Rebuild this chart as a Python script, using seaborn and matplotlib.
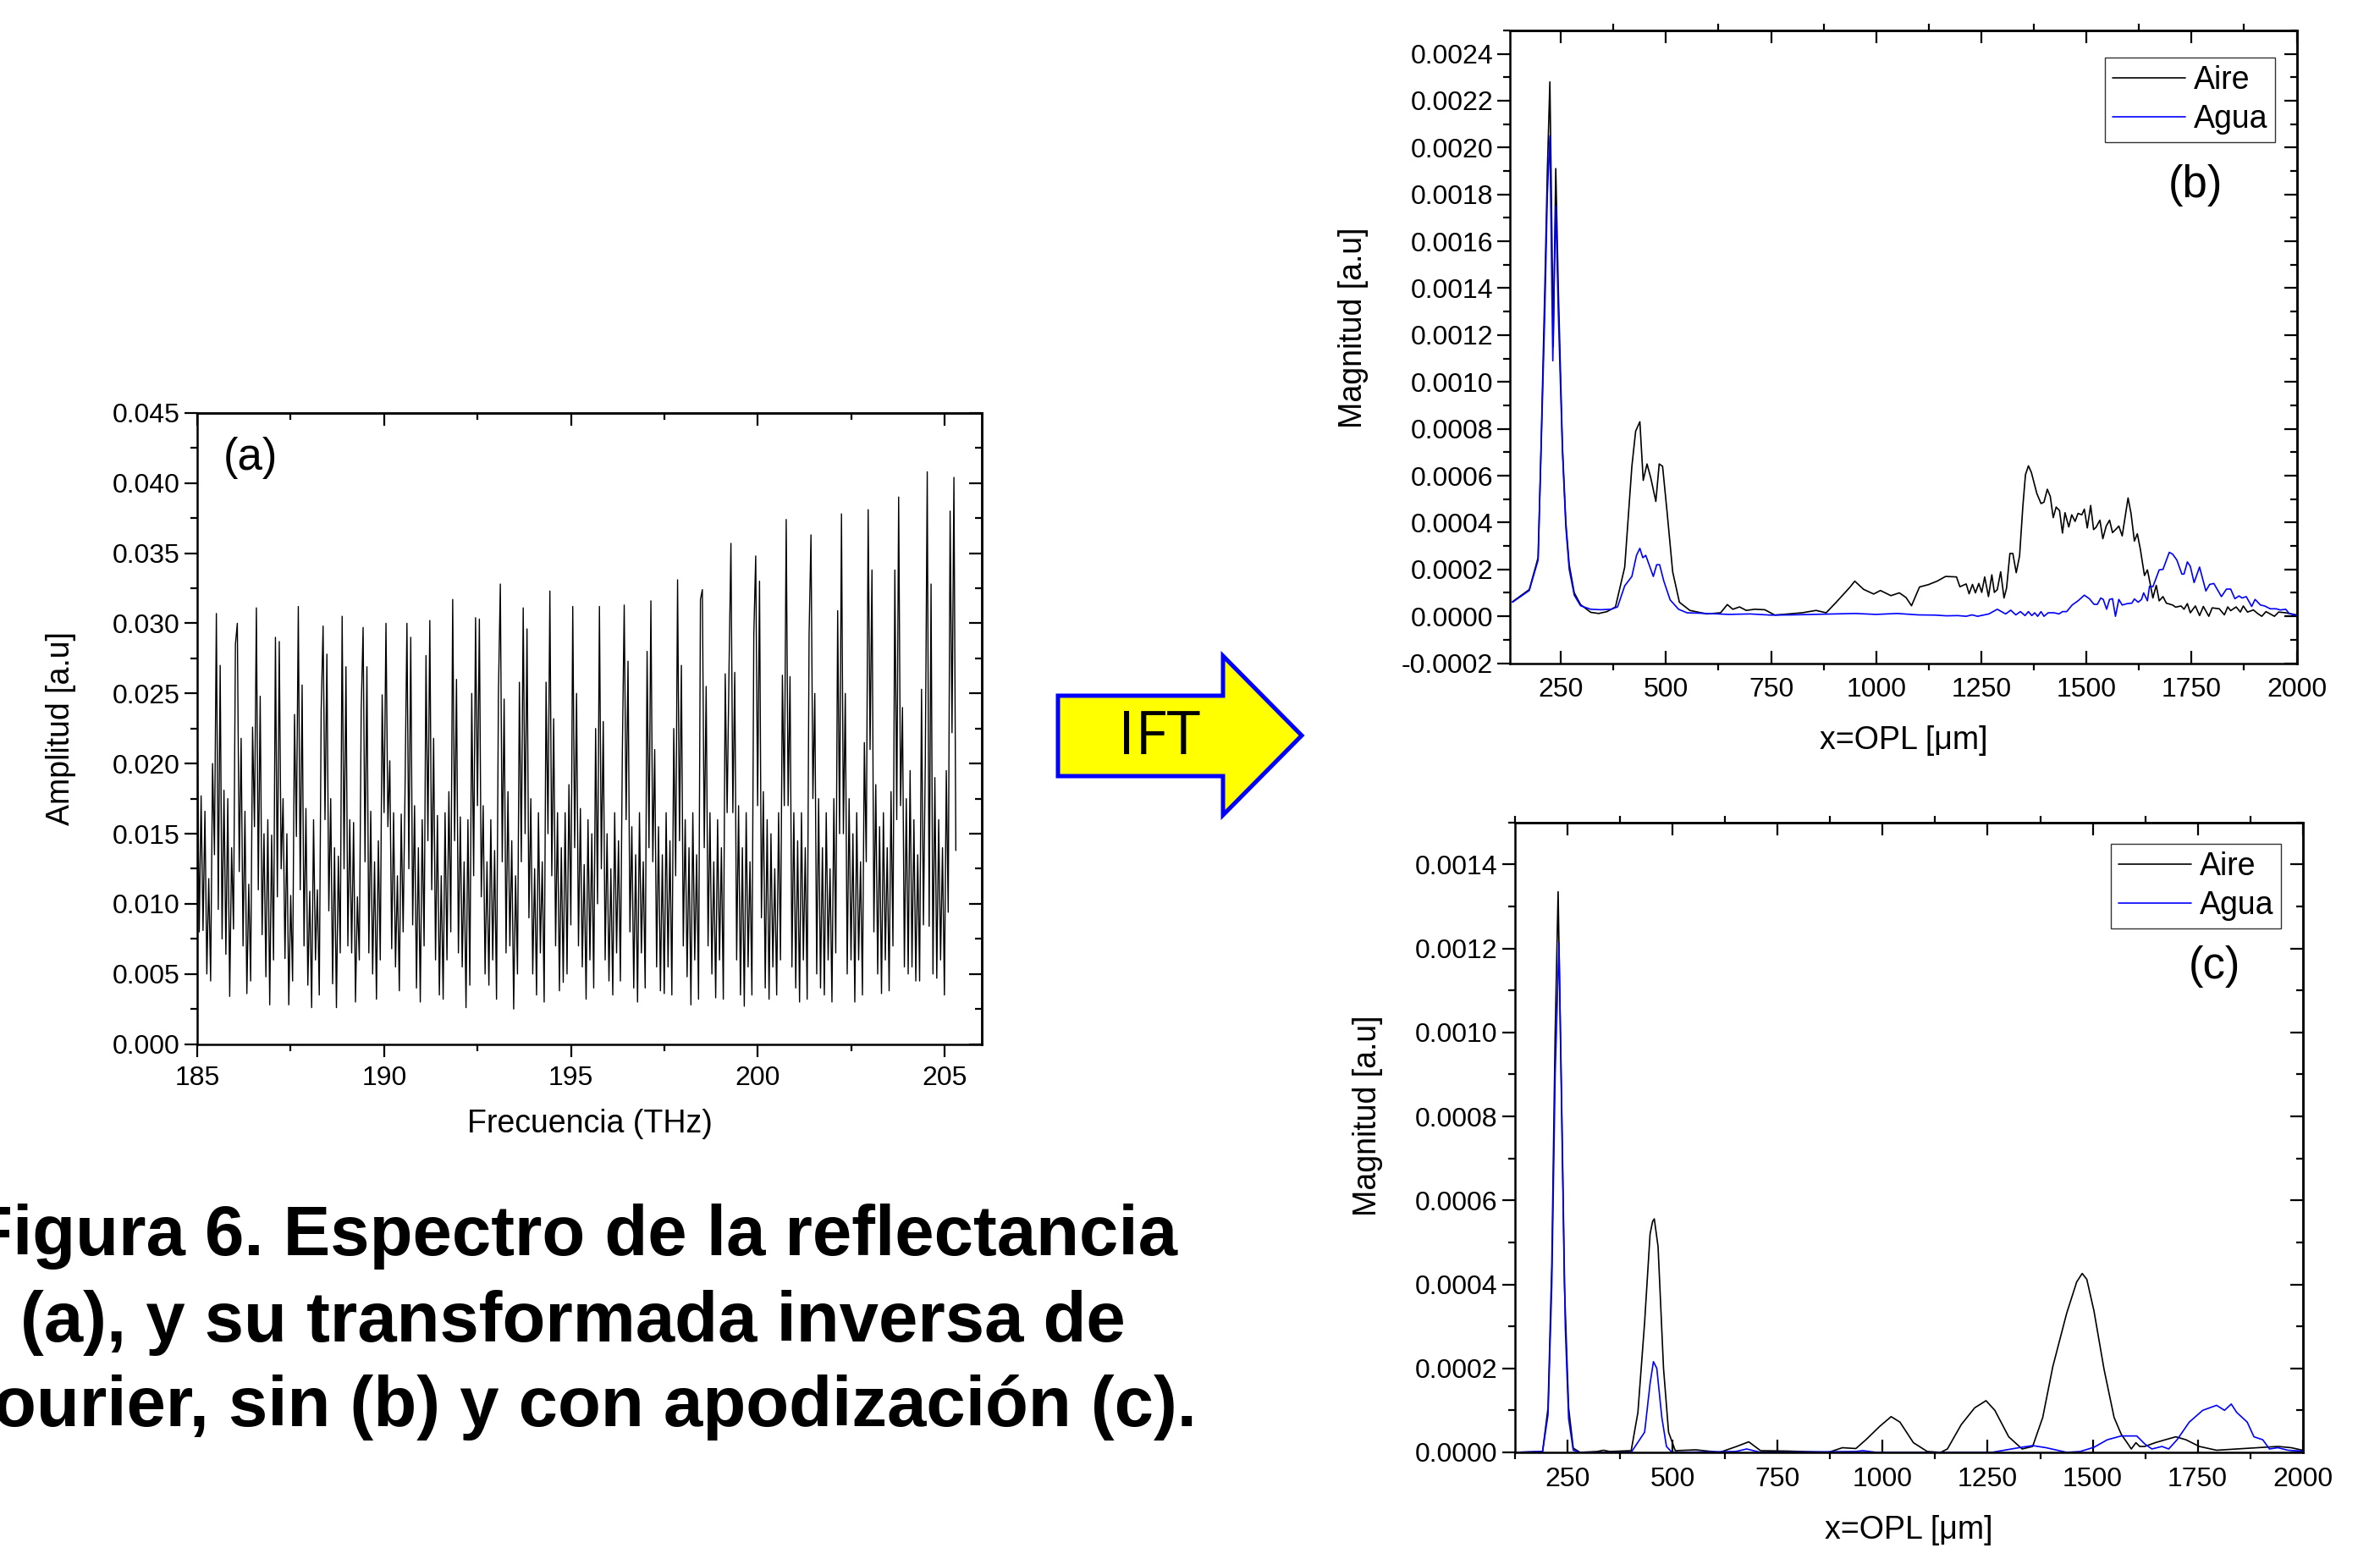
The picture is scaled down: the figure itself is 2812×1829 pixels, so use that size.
import matplotlib
matplotlib.use("Agg")
import numpy as np
import matplotlib.pyplot as plt
import seaborn as sns
from matplotlib.ticker import MultipleLocator, FormatStrFormatter
from matplotlib.patches import Polygon

# ---------------- (a) reflectance spectrum, amplitude in 1e-3 units ----------------
amp_start = [22.3, 8.0, 17.7, 8.1, 16.6, 5.0, 11.8, 4.5, 20.0, 13.5]
amp_rows = [
    [30.7, 9.6, 27.0, 7.5, 18.1, 6.4, 17.5, 3.4, 14.0, 8.2, 28.5],
    [30.0, 12.3, 21.8, 7.0, 16.6, 3.6, 11.4, 4.5, 22.6, 15.5],
    [31.1, 11.0, 24.8, 7.8, 15.0, 4.8, 16.0, 2.8, 14.9, 6.0],
    [29.0, 10.5, 28.7, 12.5, 17.5, 6.1, 15.0, 2.8, 10.6, 4.5, 23.5, 14.8],
    [31.2, 11.0, 25.6, 7.0, 16.8, 4.2, 10.9, 2.6, 16.0, 6.0, 11.0, 3.5, 23.8],
    [29.8, 16.0, 27.8, 9.5, 17.5, 4.3, 14.0, 2.6, 13.4, 6.5],
    [30.5, 12.5, 26.9, 7.0, 16.0, 6.5, 15.8, 3.0, 10.5, 6.0, 23.8],
    [29.7, 13.0, 26.9, 6.5, 16.6, 5.0, 13.0, 3.2, 14.5, 6.0, 24.9, 16.5],
    [30.0, 15.5, 20.2, 6.8, 16.5, 5.5, 12.0, 3.8, 16.4, 8.0, 18.2],
    [30.0, 12.5, 29.0, 8.5, 17.0, 4.0, 14.0, 3.0, 16.0, 7.0, 27.7, 14.5],
    [30.2, 11.0, 21.8, 6.0, 16.3, 3.5, 12.0, 3.2, 16.5, 6.0, 18.0, 8.0],
    [31.7, 14.5, 26.0, 6.5, 16.2, 5.5, 13.0, 2.6, 16.0, 4.2, 25.0, 12.0],
    [30.4, 17.0, 30.3, 10.5, 17.0, 5.0, 13.0, 4.2, 16.0, 6.0, 13.8, 3.2, 25.0],
    [32.8, 13.0, 24.6, 6.5, 18.0, 7.0, 14.5, 2.5, 12.0, 5.0, 25.8, 13.0],
    [31.1, 15.0, 29.6, 9.0, 17.5, 5.0, 12.5, 3.5, 16.5, 6.5, 13.0, 3.0, 25.8, 15.0],
    [32.3, 12.0, 23.2, 7.0, 16.5, 3.8, 14.0, 4.4, 16.5, 5.0, 18.5, 8.5],
    [31.2, 14.0, 25.0, 7.0, 16.8, 5.5, 12.8, 3.2, 16.0, 6.0, 15.0, 4.0, 22.5, 10.0],
    [31.2, 12.5, 23.0, 6.0, 15.0, 4.5, 12.5, 3.5, 16.5, 6.5, 14.5, 4.5, 20.5],
    [31.3, 16.0, 27.3, 8.0, 15.5, 4.0, 13.5, 3.0, 16.5, 6.5, 13.0, 4.0, 28.0, 14.0],
    [31.6, 13.0, 21.0, 5.5, 15.5, 3.8, 13.5, 3.6, 16.5, 5.5, 14.5, 3.5, 22.5, 12.0],
    [33.1, 14.5, 27.0, 7.0, 16.0, 4.8, 14.0, 2.8, 16.5, 6.0, 13.5, 3.2, 31.7],
    [32.4, 14.0, 25.5, 7.0, 16.5, 5.0, 13.0, 3.3, 16.0, 6.0, 14.0, 3.2, 26.4, 16.5, 26.8],
    [35.7, 16.5, 26.5, 6.0, 17.0, 3.5, 14.0, 2.7, 16.5, 5.5, 13.0, 3.5, 29.2],
    [34.8, 17.0, 33.0, 9.0, 18.0, 4.0, 16.0, 3.2, 15.0, 5.5, 12.5, 3.5, 16.5, 6.0, 26.3, 17.0],
    [37.4, 17.0, 26.2, 5.5, 16.5, 4.0, 14.5, 3.0, 16.5, 6.0, 14.0, 3.2, 29.2],
    [36.3, 17.5, 25.0, 5.0, 17.5, 4.0, 14.0, 3.5, 16.5, 6.0, 12.5, 3.0, 17.5, 6.5, 30.9, 15.0],
    [37.8, 15.0, 25.0, 5.0, 17.5, 6.0, 15.0, 3.0, 16.5, 6.0, 13.0, 3.5, 21.5, 13.0],
    [38.1, 21.0, 33.8, 8.0, 18.5, 5.0, 15.5, 3.6, 16.5, 6.0, 14.0, 3.8, 18.0, 7.0, 33.8, 16.0],
    [39.0, 17.0, 24.0, 5.5, 17.5, 5.0, 19.5, 5.5, 16.0, 4.5, 13.5, 4.5, 25.3, 8.5, 20.4],
    [40.8, 8.4, 32.8, 5.0, 19.0, 4.7, 16.0, 6.0, 14.0, 3.5, 19.5, 9.4],
]
amp_end = [38.0, 22.2, 40.4, 13.8]
freq_first, freq_last = 185.0, 205.3

# ---------------- (b) IFT without apodization (magnitude in 1e-4 units) ----------------
aire_b_x = [135, 175, 196, 203, 212, 218, 224, 229, 232, 238, 244, 254, 262, 270, 282, 297,
            321, 340, 360, 380, 402, 419, 428, 438, 446, 455, 464, 476, 484, 492, 503, 516,
            532, 557, 597, 630, 646, 659, 675, 691, 711, 735, 759, 792, 824, 857, 881, 905,
            938, 949, 970, 994, 1010, 1035, 1055, 1071, 1084, 1103, 1124, 1145, 1165, 1191,
            1199, 1214, 1221, 1229, 1236, 1244, 1251, 1258, 1267, 1275, 1281, 1288, 1296,
            1304, 1310, 1318, 1325, 1333, 1341, 1349, 1355, 1362, 1369, 1382, 1392, 1399,
            1407, 1414, 1421, 1428, 1436, 1443, 1449, 1458, 1465, 1473, 1480, 1489, 1495,
            1502, 1510, 1517, 1523, 1532, 1539, 1547, 1555, 1562, 1571, 1577, 1585, 1599,
            1606, 1614, 1621, 1628, 1638, 1645, 1651, 1658, 1666, 1673, 1682, 1690, 1705,
            1712, 1725, 1732, 1740, 1747, 1759, 1769, 1778, 1791, 1799, 1816, 1828, 1836,
            1843, 1856, 1866, 1873, 1883, 1897, 1907, 1917, 1927, 1947, 1957, 1974, 2000]
aire_b_y = [0.62, 1.14, 2.5, 7.2, 14.0, 19.0, 22.8, 16.0, 11.5, 19.1, 14.0, 7.2, 4.0, 2.2, 1.0, 0.5,
            0.17, 0.12, 0.2, 0.4, 2.1, 6.4, 7.9, 8.3, 5.8, 6.5, 5.9, 4.9, 6.5, 6.4, 4.4, 1.9,
            0.6, 0.25, 0.1, 0.15, 0.5, 0.3, 0.4, 0.25, 0.3, 0.28, 0.05, 0.1, 0.15, 0.25, 0.15, 0.6,
            1.25, 1.5, 1.15, 0.95, 1.1, 0.88, 1.0, 0.8, 0.45, 1.25, 1.35, 1.5, 1.7, 1.68,
            1.26, 1.38, 0.96, 1.36, 1.0, 1.4, 1.02, 1.68, 0.84, 1.77, 1.02, 1.14, 1.9,
            0.78, 1.2, 2.68, 2.68, 1.86, 2.58, 4.75, 6.04, 6.42, 6.14, 5.24, 4.81, 4.87,
            5.42, 5.11, 4.21, 4.66, 4.51, 3.55, 4.42, 3.81, 4.33, 4.05, 4.39, 4.33, 4.57,
            3.77, 4.73, 3.7, 3.8, 4.1, 3.31, 3.85, 4.1, 3.57, 3.73, 3.85, 3.43, 5.05,
            4.39, 3.21, 3.52, 2.88, 1.74, 1.98, 1.44, 0.78, 1.32, 0.66, 0.84, 0.56, 0.48,
            0.39, 0.44, 0.3, 0.54, 0.15, 0.44, 0.03, 0.42, 0.0, 0.36, 0.32, 0.06, 0.4,
            0.24, 0.4, 0.18, 0.44, 0.18, 0.27, 0.12, 0.0, 0.2, 0.0, 0.18, 0.15, 0.06]

agua_b_x = [135, 175, 196, 203, 212, 218, 224, 228, 231, 235, 238, 244, 254, 262, 270, 282,
            297, 321, 345, 370, 385, 402, 419, 430, 438, 445, 452, 460, 470, 478, 485, 495,
            510, 530, 550, 600, 650, 700, 750, 800, 850, 900, 950, 1000, 1050, 1100, 1140,
            1167, 1194, 1214, 1228, 1241, 1268, 1288, 1308, 1320, 1332, 1343, 1354, 1362,
            1370, 1377, 1384, 1392, 1399, 1409, 1423, 1435, 1443, 1453, 1466, 1480, 1495,
            1507, 1518, 1526, 1534, 1540, 1548, 1555, 1562, 1569, 1577, 1585, 1597, 1608,
            1614, 1623, 1631, 1636, 1645, 1650, 1658, 1673, 1682, 1697, 1705, 1715, 1727,
            1732, 1740, 1747, 1756, 1769, 1784, 1793, 1803, 1821, 1833, 1843, 1853, 1863,
            1870, 1880, 1893, 1901, 1914, 1924, 1937, 1951, 1961, 1974, 1982, 2000]
agua_b_y = [0.6, 1.1, 2.4, 7.0, 13.0, 18.0, 20.5, 15.0, 10.9, 15.0, 17.5, 13.0, 7.0, 3.8, 2.0, 0.9,
            0.45, 0.3, 0.28, 0.3, 0.4, 1.3, 1.7, 2.6, 2.9, 2.5, 2.6, 2.2, 1.7, 2.2, 2.2, 1.5,
            0.7, 0.3, 0.15, 0.12, 0.08, 0.1, 0.05, 0.06, 0.08, 0.1, 0.12, 0.08, 0.12, 0.06, 0.05,
            0.02, 0.03, 0.0, 0.06, 0.0, 0.1, 0.3, 0.1, 0.26, 0.06, 0.2, 0.03, 0.2,
            0.03, 0.15, 0.0, 0.2, 0.0, 0.15, 0.15, 0.1, 0.2, 0.2, 0.48, 0.66, 0.9,
            0.75, 0.51, 0.51, 0.78, 0.72, 0.3, 0.72, 0.75, 0.0, 0.72, 0.48, 0.54, 0.56,
            0.74, 0.6, 0.72, 1.0, 0.66, 1.28, 1.26, 1.98, 2.0, 2.73, 2.65, 2.4, 1.8,
            1.8, 2.32, 2.13, 1.44, 2.1, 1.08, 1.36, 1.4, 0.84, 1.16, 1.16, 0.75, 0.87,
            0.78, 0.84, 0.42, 0.72, 0.48, 0.44, 0.32, 0.32, 0.27, 0.3, 0.12, 0.03]

# ---------------- (c) IFT with apodization (magnitude in 1e-4 units) ----------------
aire_c_x = [125, 190, 203, 212, 220, 227, 234, 242, 252, 263, 279, 320, 335, 350, 401, 417,
            433, 446, 452, 456, 465, 478, 490, 506, 555, 612, 652, 681, 709, 774, 871, 904,
            936, 960, 993, 1020, 1041, 1073, 1106, 1138, 1154, 1187, 1219, 1246, 1267, 1300,
            1332, 1357, 1381, 1405, 1438, 1462, 1475, 1486, 1503, 1527, 1551, 1568, 1584,
            1592, 1603, 1612, 1624, 1649, 1673, 1698, 1722, 1754, 1795, 1843, 1892, 1941,
            1973, 2000]
aire_c_y = [0.0, 0.02, 1.06, 4.5, 10.0, 13.35, 9.0, 4.0, 1.06, 0.1, 0.0, 0.02, 0.05, 0.02, 0.04, 0.95,
            3.1, 5.2, 5.5, 5.56, 4.9, 2.0, 0.48, 0.04, 0.06, 0.0, 0.14, 0.25, 0.04, 0.03, 0.0, 0.11,
            0.09, 0.3, 0.62, 0.85, 0.72, 0.23, 0.02, 0.0, 0.08, 0.66, 1.06, 1.23, 1.0, 0.37,
            0.08, 0.14, 0.83, 2.04, 3.31, 4.06, 4.26, 4.12, 3.37, 1.98, 0.83, 0.43, 0.2,
            0.08, 0.23, 0.14, 0.14, 0.23, 0.3, 0.37, 0.3, 0.14, 0.05, 0.08, 0.11, 0.14,
            0.11, 0.05]

agua_c_x = [125, 190, 203, 212, 220, 229, 236, 244, 252, 263, 279, 401, 433, 446, 454, 462,
            474, 485, 498, 650, 676, 709, 936, 952, 985, 1260, 1324, 1357, 1389, 1438, 1470,
            1503, 1535, 1568, 1605, 1624, 1641, 1665, 1681, 1701, 1730, 1762, 1795, 1814,
            1830, 1843, 1868, 1884, 1905, 1921, 1941, 1965, 2000]
agua_c_y = [0.0, 0.02, 0.9, 4.0, 9.0, 12.14, 8.0, 3.0, 0.8, 0.05, 0.0, 0.0, 0.48, 1.64, 2.16, 2.0,
            0.83, 0.14, 0.0, 0.02, 0.08, 0.0, 0.02, 0.04, 0.0, 0.0, 0.11, 0.16, 0.11, 0.0, 0.02,
            0.12, 0.3, 0.39, 0.39, 0.2, 0.08, 0.14, 0.08, 0.3, 0.72, 1.0, 1.12, 1.0,
            1.15, 0.95, 0.72, 0.37, 0.3, 0.08, 0.11, 0.05, 0.03]

caption_lines = ["Figura 6. Espectro de la reflectancia",
                 "(a), y su transformada inversa de",
                 "Fourier, sin (b) y con apodización (c)."]

# ---------------- style ----------------
sns.set_style("ticks")
plt.rcParams["font.family"] = ["Liberation Sans", "DejaVu Sans"]
plt.rcParams["axes.linewidth"] = 1.8
for key in ["text.color", "axes.labelcolor", "xtick.color", "ytick.color", "axes.edgecolor"]:
    plt.rcParams[key] = "black"

TICK_FS = 23
LABEL_FS = 27
MAJ_LEN, MIN_LEN, TICK_W = 10.5, 5.8, 1.6

fig = plt.figure(figsize=(28.12, 18.29), dpi=100)


def style_axes(ax, xmaj, xmin, ymaj, ymin, yfmt, xfmt, bottom_major="in", top_minor="out", xpad=12):
    ax.xaxis.set_major_locator(MultipleLocator(xmaj))
    ax.xaxis.set_minor_locator(MultipleLocator(xmin))
    ax.yaxis.set_major_locator(MultipleLocator(ymaj))
    ax.yaxis.set_minor_locator(MultipleLocator(ymin))
    ax.yaxis.set_major_formatter(FormatStrFormatter(yfmt))
    ax.xaxis.set_major_formatter(FormatStrFormatter(xfmt))
    ax.tick_params(axis="y", which="major", direction="out", length=MAJ_LEN, width=TICK_W,
                   right=False, labelsize=TICK_FS, pad=4)
    ax.tick_params(axis="y", which="minor", direction="out", length=MIN_LEN, width=TICK_W, right=False)
    ax.tick_params(axis="x", which="major", direction=bottom_major, length=MAJ_LEN, width=TICK_W,
                   top=False, labelsize=TICK_FS, pad=xpad)
    ax.tick_params(axis="x", which="minor", direction="out", length=MIN_LEN, width=TICK_W, top=False)
    for s in ax.spines.values():
        s.set_visible(True)
        s.set_linewidth(1.8)
        s.set_color("black")

    top = ax.secondary_xaxis("top")
    top.xaxis.set_major_locator(MultipleLocator(xmaj))
    top.xaxis.set_minor_locator(MultipleLocator(xmin))
    top.tick_params(which="major", direction="in", length=MAJ_LEN, width=TICK_W, labeltop=False)
    top.tick_params(which="minor", direction=top_minor, length=MIN_LEN, width=TICK_W, labeltop=False)
    top.spines["top"].set_linewidth(1.8)

    right = ax.secondary_yaxis("right")
    right.yaxis.set_major_locator(MultipleLocator(ymaj))
    right.yaxis.set_minor_locator(MultipleLocator(ymin))
    right.tick_params(which="major", direction="in", length=MAJ_LEN, width=TICK_W, labelright=False)
    right.tick_params(which="minor", direction="in", length=MIN_LEN, width=TICK_W, labelright=False)
    right.spines["right"].set_linewidth(1.8)


def place_labels(ax, xlabel, ylabel, xl_y, yl_x, yl_y=0.5):
    ax.set_xlabel(xlabel, fontsize=LABEL_FS)
    ax.set_ylabel(ylabel, fontsize=LABEL_FS)
    ax.xaxis.label.set_va("center")
    ax.yaxis.label.set_va("center")
    ax.xaxis.set_label_coords(0.5, xl_y)
    ax.yaxis.set_label_coords(yl_x, yl_y)


def add_legend(ax, anchor):
    leg = ax.legend(loc="upper right", bbox_to_anchor=anchor, borderaxespad=0, fontsize=27,
                    frameon=True, fancybox=False, edgecolor="#333333", framealpha=1,
                    handlelength=2.3, handletextpad=0.25, labelspacing=0.25, borderpad=0.25)
    leg.get_frame().set_linewidth(1.0)


# ---------------- (a) ----------------
amp = np.array(amp_start + [v for row in amp_rows for v in row] + amp_end) * 1e-3
freq = np.linspace(freq_first, freq_last, len(amp))

ax_a = fig.add_axes([0.0829, 0.3255, 0.3297, 0.4078])
sns.lineplot(x=freq, y=amp, ax=ax_a, color="black", lw=1.0, errorbar=None)
ax_a.set_xlim(185, 206)
ax_a.set_ylim(0, 0.045)
style_axes(ax_a, 5, 2.5, 0.005, 0.0025, "%.3f", "%d", bottom_major="out", top_minor="in", xpad=8)
place_labels(ax_a, "Frecuencia (THz)", "Amplitud [a.u]", -0.127, -0.174)
ax_a.text(0.068, 0.928, "(a)", transform=ax_a.transAxes, fontsize=38, ha="center", va="center")

# ---------------- (b) ----------------
ax_b = fig.add_axes([0.6346, 0.5716, 0.3304, 0.4088])
sns.lineplot(x=aire_b_x, y=np.array(aire_b_y) * 1e-4, ax=ax_b, color="black", lw=1.2,
             label="Aire", errorbar=None)
sns.lineplot(x=agua_b_x, y=np.array(agua_b_y) * 1e-4, ax=ax_b, color="#0000FF", lw=1.2,
             label="Agua", errorbar=None)
ax_b.set_xlim(130, 2000)
ax_b.set_ylim(-0.0002, 0.0025)
style_axes(ax_b, 250, 125, 0.0002, 0.0001, "%.4f", "%d")
place_labels(ax_b, "x=OPL [μm]", "Magnitud [a.u]", -0.122, -0.2, 0.53)
ax_b.text(0.871, 0.755, "(b)", transform=ax_b.transAxes, fontsize=38, ha="center", va="center")
add_legend(ax_b, (0.973, 0.957))

# ---------------- (c) ----------------
ax_c = fig.add_axes([0.6365, 0.0618, 0.3310, 0.4069])
sns.lineplot(x=aire_c_x, y=np.array(aire_c_y) * 1e-4, ax=ax_c, color="black", lw=1.2,
             label="Aire", errorbar=None)
sns.lineplot(x=agua_c_x, y=np.array(agua_c_y) * 1e-4, ax=ax_c, color="#0000FF", lw=1.2,
             label="Agua", errorbar=None)
ax_c.set_xlim(124, 2000)
ax_c.set_ylim(0, 0.0015)
style_axes(ax_c, 250, 125, 0.0002, 0.0001, "%.4f", "%d")
place_labels(ax_c, "x=OPL [μm]", "Magnitud [a.u]", -0.123, -0.187, 0.535)
ax_c.text(0.888, 0.771, "(c)", transform=ax_c.transAxes, fontsize=38, ha="center", va="center")
add_legend(ax_c, (0.973, 0.966))

# ---------------- arrow ----------------
W, H = 2812.0, 1829.0
arrow_px = [(1250, 822), (1445, 822), (1445, 775), (1538, 869), (1445, 963), (1445, 917), (1250, 917)]
arrow = Polygon([(x / W, 1 - y / H) for x, y in arrow_px], closed=True, transform=fig.transFigure,
                facecolor="#FFFF00", edgecolor="#0000FF", lw=3.6, joinstyle="miter")
fig.add_artist(arrow)
fig.text(1370 / W, 1 - 872 / H, "IFT", ha="center", va="center", fontsize=52,
         family=["Open Sans", "DejaVu Sans"], color="black")

# ---------------- caption (cut at the left edge, as in the original page) ----------------
for line, base in zip(caption_lines, [1483, 1585, 1685]):
    fig.text(677 / W, 1 - base / H, line, ha="center", va="baseline", fontsize=60,
             fontweight="bold", color="black")

fig.savefig("out.png", dpi=100)
plt.close(fig)
